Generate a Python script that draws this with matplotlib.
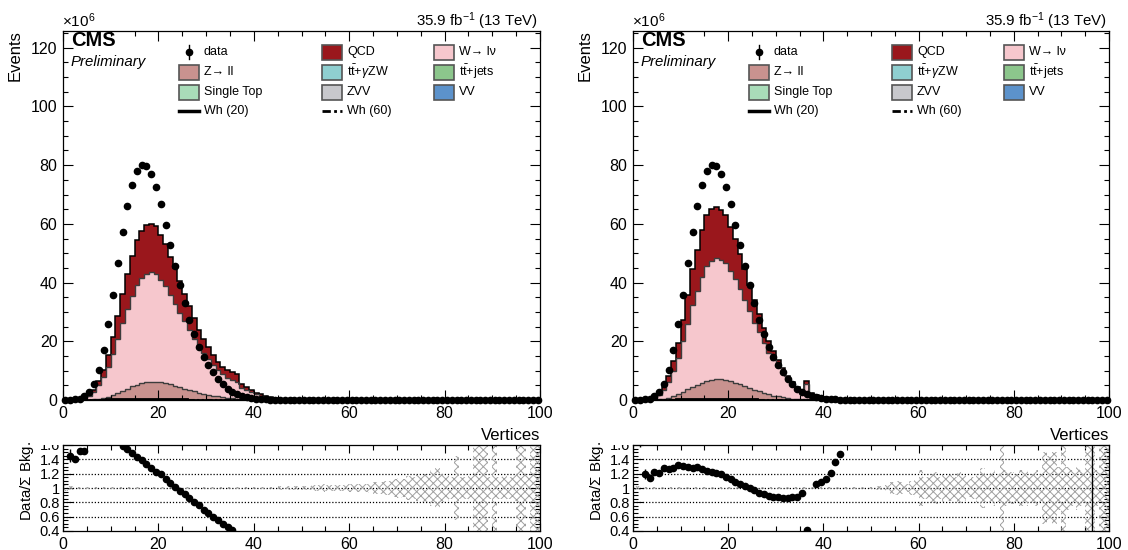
import numpy as np
import matplotlib
matplotlib.use("Agg")
import matplotlib.pyplot as plt
from matplotlib.patches import Rectangle
from matplotlib.lines import Line2D
from matplotlib.ticker import MultipleLocator

plt.rcParams['font.family'] = ['Liberation Sans', 'DejaVu Sans']
plt.rcParams['mathtext.fontset'] = 'custom'
plt.rcParams['mathtext.rm'] = 'Liberation Sans'
plt.rcParams['mathtext.it'] = 'Liberation Sans:italic'
plt.rcParams['mathtext.bf'] = 'Liberation Sans:bold'
plt.rcParams['hatch.linewidth'] = 0.7

# ---------------- data (units of 1e6 events, 1-vertex bins) ----------------
vertex_edges = np.arange(0, 101)

data_counts = [0.0, 0.05, 0.2, 0.5, 1.2, 2.6, 5.5, 10.2, 17.1, 25.8,
               35.9, 46.5, 57.1, 66.1, 73.4, 78.0, 80.2, 79.6, 76.9, 72.4,
               66.6, 59.7, 52.9, 45.8, 39.1, 32.9, 27.3, 22.4, 17.9, 14.6,
               11.9, 9.4, 7.2, 5.4, 3.9, 2.8, 1.9, 1.4, 0.9, 0.65,
               0.45, 0.3, 0.2, 0.14, 0.1, 0.07, 0.05, 0.035, 0.025, 0.018,
               0.012, 0.01, 0.01, 0.01, 0.01, 0.01, 0.01, 0.01, 0.01, 0.01,
               0.01, 0.01, 0.01, 0.01, 0.01, 0.01, 0.01, 0.01, 0.01, 0.01,
               0.01, 0.01, 0.01, 0.01, 0.01, 0.01, 0.01, 0.01, 0.01, 0.01,
               0.01, 0.01, 0.01, 0.01, 0.01, 0.01, 0.01, 0.01, 0.01, 0.01,
               0.01, 0.01, 0.01, 0.01, 0.01, 0.01, 0.01, 0.01, 0.01, 0.01]

# left plot backgrounds (bins 0..49)
zll_left = [0, 0, 0.01, 0.03, 0.06, 0.12, 0.25, 0.45, 0.75, 1.15,
            1.7, 2.4, 3.1, 3.9, 4.6, 5.2, 5.7, 6.1, 6.3, 6.3,
            6.1, 5.8, 5.4, 4.9, 4.4, 3.9, 3.4, 2.9, 2.5, 2.1,
            1.75, 1.45, 1.2, 0.95, 0.75, 0.6, 0.48, 0.38, 0.3, 0.23,
            0.18, 0.14, 0.1, 0.08, 0.06, 0.04, 0.03, 0.02, 0.015, 0.01]
wlnu_left = [0, 0.02, 0.09, 0.26, 0.66, 1.28, 2.35, 4.55, 6.95, 10.15,
             13.9, 18.4, 23.1, 27.1, 30.8, 34.0, 36.0, 36.9, 37.2, 36.5,
             34.7, 32.9, 30.2, 27.9, 25.4, 22.9, 20.4, 18.0, 15.5, 13.8,
             12.15, 10.45, 9.0, 7.75, 6.85, 6.3, 5.82, 3.82, 3.2, 2.47,
             1.82, 1.36, 1.0, 0.64, 0.42, 0.28, 0.17, 0.10, 0.065, 0.04]
qcd_left = [0, 0.01, 0.02, 0.06, 0.18, 0.4, 0.8, 1.6, 2.6, 4.0,
            5.7, 7.8, 10.0, 11.8, 13.6, 15.2, 16.0, 16.5, 16.6, 16.4,
            15.5, 14.6, 13.2, 12.0, 10.7, 9.4, 8.1, 7.0, 5.8, 5.0,
            4.1, 3.4, 2.9, 2.4, 2.6, 2.7, 2.4, 1.2, 1.0, 0.7,
            0.5, 0.4, 0.3, 0.18, 0.12, 0.08, 0.05, 0.03, 0.02, 0.01]

# right plot backgrounds (bins 0..49)
zll_right = [0, 0, 0.01, 0.04, 0.1, 0.2, 0.4, 0.8, 1.3, 2.0,
             2.8, 3.6, 4.4, 5.2, 5.9, 6.4, 6.8, 7.0, 7.0, 6.8,
             6.4, 5.9, 5.3, 4.7, 4.1, 3.5, 2.9, 2.4, 1.9, 1.5,
             1.2, 0.9, 0.7, 0.5, 0.38, 0.28, 0.22, 0.16, 0.12, 0.09,
             0.06, 0.05, 0.03, 0.02, 0.015, 0.01, 0.01, 0.005, 0.005, 0.005]
wlnu_right = [0, 0.02, 0.13, 0.32, 0.7, 1.5, 2.9, 5.3, 8.7, 12.4,
              17.2, 22.4, 27.8, 31.8, 35.9, 39.1, 40.6, 41.3, 40.8, 40.0,
              37.6, 35.3, 32.5, 29.3, 26.1, 22.9, 20.2, 17.1, 14.2, 12.0,
              10.1, 8.2, 6.3, 4.8, 3.42, 2.32, 5.18, 1.74, 1.28, 0.91,
              0.69, 0.45, 0.3, 0.19, 0.115, 0.07, 0.05, 0.03, 0.02, 0.01]
qcd_right = [0, 0.01, 0.03, 0.08, 0.2, 0.45, 1.0, 2.0, 3.4, 5.1,
             7.4, 9.8, 12.4, 14.2, 16.0, 17.4, 17.8, 17.5, 16.8, 16.2,
             14.9, 13.6, 12.1, 10.5, 8.9, 7.5, 6.3, 5.1, 4.0, 3.1,
             2.4, 1.8, 1.3, 0.9, 0.6, 0.4, 1.1, 0.4, 0.3, 0.2,
             0.15, 0.1, 0.07, 0.04, 0.02, 0.02, 0.01, 0.01, 0.005, 0.005]

# signals (tiny)
wh20 = [0, 0, 0, 0, 0.02, 0.04, 0.07, 0.1, 0.14, 0.18,
        0.22, 0.26, 0.3, 0.33, 0.35, 0.37, 0.38, 0.38, 0.37, 0.35,
        0.33, 0.3, 0.27, 0.24, 0.21, 0.18, 0.15, 0.12, 0.1, 0.08,
        0.06, 0.05, 0.04, 0.03, 0.02, 0.01, 0.01, 0, 0, 0]
wh60 = [0, 0, 0, 0, 0.01, 0.02, 0.03, 0.05, 0.06, 0.08,
        0.1, 0.11, 0.13, 0.14, 0.15, 0.16, 0.16, 0.16, 0.15, 0.15,
        0.14, 0.13, 0.11, 0.1, 0.09, 0.08, 0.06, 0.05, 0.04, 0.03,
        0.03, 0.02, 0.02, 0.01, 0.01, 0.01, 0, 0, 0, 0]

# ratio panels: bins shown, values, errors
ratio_left_bins = [1, 2, 3, 4, 12, 13, 14, 15, 16, 17, 18, 19, 20, 21, 22, 23,
                   24, 25, 26, 27, 28, 29, 30, 31, 32, 33, 34, 35]
ratio_left = [1.45, 1.40, 1.52, 1.52, 1.58, 1.54, 1.49, 1.43, 1.39, 1.34, 1.28,
              1.23, 1.19, 1.13, 1.07, 1.02, 0.96, 0.91, 0.86, 0.80, 0.76, 0.70,
              0.65, 0.60, 0.55, 0.50, 0.46, 0.42]
ratio_left_err = [0.09, 0.04, 0.02, 0.02, 0.005, 0.005, 0.005, 0.005, 0.005,
                  0.005, 0.005, 0.005, 0.005, 0.005, 0.005, 0.005, 0.005, 0.005,
                  0.005, 0.005, 0.005, 0.005, 0.005, 0.005, 0.005, 0.005, 0.005,
                  0.005]

ratio_right_bins = [1, 2, 3, 4, 5, 6, 7, 8, 9, 10, 11, 12, 13, 14, 15, 16, 17,
                    18, 19, 20, 21, 22, 23, 24, 25, 26, 27, 28, 29, 30, 31, 32,
                    33, 34, 35, 36, 38, 39, 40, 41, 42, 43, 44, 96]
ratio_right = [1.75, 1.19, 1.14, 1.22, 1.21, 1.28, 1.26, 1.28, 1.32, 1.31, 1.30,
               1.28, 1.29, 1.27, 1.24, 1.23, 1.21, 1.19, 1.15, 1.13, 1.09, 1.06,
               1.03, 1.00, 0.97, 0.93, 0.91, 0.89, 0.88, 0.87, 0.865, 0.865,
               0.87, 0.88, 0.93, 0.42, 1.05, 1.08, 1.13, 1.21, 1.36, 1.47,
               1.72, 0.0]
ratio_right_err = [0.18, 0.07, 0.04, 0.02, 0.01, 0.01, 0.01, 0.01, 0.01, 0.01,
                   0.01, 0.005, 0.005, 0.005, 0.005, 0.005, 0.005, 0.005, 0.005,
                   0.005, 0.005, 0.005, 0.005, 0.005, 0.005, 0.005, 0.005, 0.005,
                   0.005, 0.005, 0.005, 0.005, 0.005, 0.005, 0.01, 0.01, 0.01,
                   0.01, 0.015, 0.03, 0.03, 0.03, 0.12, 2.0]

# MC statistical uncertainty (relative half-width) per bin
band_left = [0.04, 0.03, 0.02, 0.02, 0.02, 0.02, 0.02, 0.02, 0.02, 0.02,
             0.01, 0.01, 0.01, 0.01, 0.01, 0.01, 0.01, 0.01, 0.01, 0.01,
             0.01, 0.01, 0.01, 0.01, 0.01, 0.01, 0.01, 0.01, 0.01, 0.01,
             0.01, 0.01, 0.01, 0.01, 0.01, 0.01, 0.01, 0.01, 0.01, 0.01,
             0.015, 0.015, 0.02, 0.02, 0.02, 0.025, 0.02, 0.025, 0.03, 0.025,
             0.03, 0.03, 0.035, 0.04, 0.05, 0.035, 0.04, 0.04, 0.045, 0.05,
             0.05, 0.055, 0.05, 0.06, 0.07, 0.08, 0.09, 0.1, 0.1, 0.12,
             0.14, 0.13, 0.17, 0.16, 0.18, 0.2, 0.2, 0.25, 0.28, 0.2,
             0.18, 0.15, 0.45, 0.15, 0.15, 0.18, 0.6, 0.6, 0.6, 0.15,
             0.7, 0.15, 0.18, 0.15, 0.18, 0.7, 0.6, 0.2, 0.7, 0.7]
band_right = [0.03, 0.03, 0.02, 0.02, 0.02, 0.02, 0.02, 0.02, 0.02, 0.02,
              0.01, 0.01, 0.01, 0.01, 0.01, 0.01, 0.01, 0.01, 0.01, 0.01,
              0.01, 0.01, 0.01, 0.01, 0.01, 0.01, 0.01, 0.01, 0.01, 0.01,
              0.01, 0.01, 0.01, 0.01, 0.01, 0.01, 0.01, 0.01, 0.01, 0.01,
              0.01, 0.01, 0.015, 0.015, 0.015, 0.015, 0.02, 0.02, 0.02, 0.02,
              0.02, 0.03, 0.03, 0.04, 0.08, 0.1, 0.08, 0.06, 0.1, 0.12,
              0.25, 0.15, 0.2, 0.22, 0.15, 0.2, 0.18, 0.15, 0.22, 0.18,
              0.12, 0.15, 0.2, 0.28, 0.2, 0.25, 0.2, 0.7, 0.25, 0.22,
              0.2, 0.25, 0.25, 0.2, 0.25, 0.2, 0.5, 0.45, 0.5, 0.3,
              0.7, 0.3, 0.25, 0.3, 0.25, 0.7, 0.7, 0.25, 0.7, 0.7]

legend_labels = ['data', 'QCD', 'W\u2192 l\u03bd',
                 'Z\u2192 ll', r't$\bar{\rm t}$+$\gamma$ZW', r't$\bar{\rm t}$+jets',
                 'Single Top', 'ZVV', 'VV',
                 'Wh (20)', 'Wh (60)']

# ---------------- style ----------------
C_QCD = '#9a171c'
C_W = '#f6c7cd'
C_Z = '#c9928f'
C_TTV = '#8fcfd0'
C_TTJ = '#8cc68c'
C_ST = '#a9dcb9'
C_ZVV = '#c8c8cc'
C_VV = '#5c92cb'
legend_kinds = ['data', C_QCD, C_W, C_Z, C_TTV, C_TTJ, C_ST, C_ZVV, C_VV,
                'solid', 'dashdot']
DASHDOT = (0, (3, 1.2, 1, 1.2, 1, 1.2))

FW, FH = 1128, 550
fig = plt.figure(figsize=(FW / 100, FH / 100), dpi=100)


def fx(px):
    return px / FW


def fy(py):
    return (FH - py) / FH


def style_axis(ax):
    ax.tick_params(which='both', direction='in', top=True, right=True,
                   labelsize=11.5, pad=4)
    ax.tick_params(which='major', length=7, width=0.8)
    ax.tick_params(which='minor', length=3.5, width=0.8)
    for s in ax.spines.values():
        s.set_linewidth(0.9)


def legend_block(x_off):
    rows = [52, 72, 92, 111]
    colx = [179, 322, 434]
    bw, bh = 20, 15
    for k, (kind, lab) in enumerate(zip(legend_kinds, legend_labels)):
        r, c = divmod(k, 3)
        x = colx[c] + x_off
        y = rows[r]
        if kind == 'data':
            fig.add_artist(Line2D([fx(x + bw / 2)] * 2, [fy(y - 7), fy(y + 7)],
                                  color='black', lw=1.0))
            fig.add_artist(Line2D([fx(x + bw / 2)], [fy(y)], marker='o', ms=4.5,
                                  color='black', ls='none'))
        elif kind == 'solid':
            fig.add_artist(Line2D([fx(x), fx(x + bw)], [fy(y)] * 2,
                                  color='black', lw=2.5))
        elif kind == 'dashdot':
            fig.add_artist(Line2D([fx(x), fx(x + bw)], [fy(y)] * 2,
                                  color='black', lw=2.0, ls=DASHDOT))
        else:
            fig.add_artist(Rectangle((fx(x), fy(y + bh / 2)), bw / FW, bh / FH,
                                     transform=fig.transFigure, facecolor=kind,
                                     edgecolor='#555555', lw=1.2))
        fig.text(fx(x + bw + 5), fy(y), lab, fontsize=9, va='center', ha='left')


def draw_panel(x_left, x_right, zll, wlnu, qcd, r_bins, r_vals, r_errs, band):
    w = (x_right - x_left) / FW
    ax = fig.add_axes([fx(x_left), fy(400), w, (400 - 31) / FH])
    axr = fig.add_axes([fx(x_left), fy(531), w, (531 - 445) / FH])

    n = len(zll)
    edges = vertex_edges[:n + 1]
    z = np.array(zll, float)
    zw = z + np.array(wlnu, float)
    tot = zw + np.array(qcd, float)
    ax.stairs(tot, edges, fill=True, facecolor=C_QCD, edgecolor='none', zorder=1)
    ax.stairs(zw, edges, fill=True, facecolor=C_W, edgecolor='none', zorder=1.1)
    ax.stairs(z, edges, fill=True, facecolor=C_Z, edgecolor='none', zorder=1.2)
    ax.stairs(tot, edges, color='black', lw=1.1, zorder=1.3, baseline=None)
    ax.stairs(zw, edges, color='#3c3c3c', lw=1.0, zorder=1.3, baseline=None)
    ax.stairs(z, edges, color='#3c3c3c', lw=1.0, zorder=1.3, baseline=None)

    e_sig = vertex_edges[:len(wh20) + 1]
    ax.stairs(wh20, e_sig, color='black', lw=2.0, zorder=1.4, baseline=None)
    ax.stairs(wh60, e_sig, color='black', lw=1.5, ls=DASHDOT,
              zorder=1.4, baseline=None)

    centers = vertex_edges[:-1] + 0.5
    ax.plot(centers, data_counts, 'o', color='black', ms=4.5, zorder=3,
            clip_on=False)

    ax.set_xlim(0, 100)
    ax.set_ylim(0, 125.7)
    ax.xaxis.set_major_locator(MultipleLocator(20))
    ax.xaxis.set_minor_locator(MultipleLocator(5))
    ax.yaxis.set_major_locator(MultipleLocator(20))
    ax.yaxis.set_minor_locator(MultipleLocator(5))
    style_axis(ax)

    # ratio panel
    for yv in [0.6, 0.8, 1.0, 1.2, 1.4]:
        axr.axhline(yv, color='black', lw=0.9, ls=(0, (1, 1.5)), zorder=1)
    bcent = vertex_edges[:-1] + 0.5
    band = np.array(band, float)
    axr.bar(bcent, 2 * band, bottom=1 - band, width=1.0, fill=False,
            hatch='xxxx', edgecolor='#a0a0a0', linewidth=0, zorder=2)
    rb = np.array(r_bins) + 0.5
    axr.errorbar(rb, r_vals, yerr=r_errs, fmt='o', color='black', ms=4.5,
                 elinewidth=1.0, capsize=0, zorder=3)
    axr.set_xlim(0, 100)
    axr.set_ylim(0.4, 1.6)
    axr.xaxis.set_major_locator(MultipleLocator(20))
    axr.xaxis.set_minor_locator(MultipleLocator(5))
    axr.set_yticks([0.4, 0.6, 0.8, 1.0, 1.2, 1.4, 1.6])
    axr.set_yticklabels(['0.4', '0.6', '0.8', '1', '1.2', '1.4', '1.6'])
    axr.yaxis.set_minor_locator(MultipleLocator(0.05))
    style_axis(axr)
    axr.tick_params(axis='y', labelsize=10.5, pad=2)
    axr.tick_params(axis='x', which='major', length=6)

    # mask upper half of the "1.6" label like the reference
    fig.add_artist(Rectangle((fx(x_left - 30), fy(445)), 29 / FW, 6 / FH,
                             transform=fig.transFigure, facecolor='white',
                             edgecolor='none', zorder=20))

    # texts
    fig.text(fx(x_left - 48), fy(30), 'Events', rotation=90, fontsize=12,
             ha='center', va='top')
    fig.text(fx(x_left - 1), fy(27), r'$\times$10$^{6}$', fontsize=11,
             ha='left', va='baseline')
    fig.text(fx(x_right - 2), fy(26), r'35.9 fb$^{-1}$ (13 TeV)', fontsize=10.8,
             ha='right', va='baseline')
    fig.text(fx(x_left + 8), fy(40), 'CMS', fontsize=14.5, fontweight='bold',
             ha='left', va='center')
    fig.text(fx(x_left + 8), fy(62), 'Preliminary', fontsize=10.8,
             style='italic', ha='left', va='center')
    fig.text(fx(x_right), fy(436), 'Vertices', fontsize=12, ha='right',
             va='center')
    fig.text(fx(x_left - 36), fy(441), r'Data/$\Sigma$ Bkg.', rotation=90,
             fontsize=10.8, ha='center', va='top')


draw_panel(63, 540, zll_left, wlnu_left, qcd_left,
           ratio_left_bins, ratio_left, ratio_left_err, band_left)
legend_block(0)
draw_panel(633, 1109, zll_right, wlnu_right, qcd_right,
           ratio_right_bins, ratio_right, ratio_right_err, band_right)
legend_block(570)

fig.savefig('out.png', dpi=100)
